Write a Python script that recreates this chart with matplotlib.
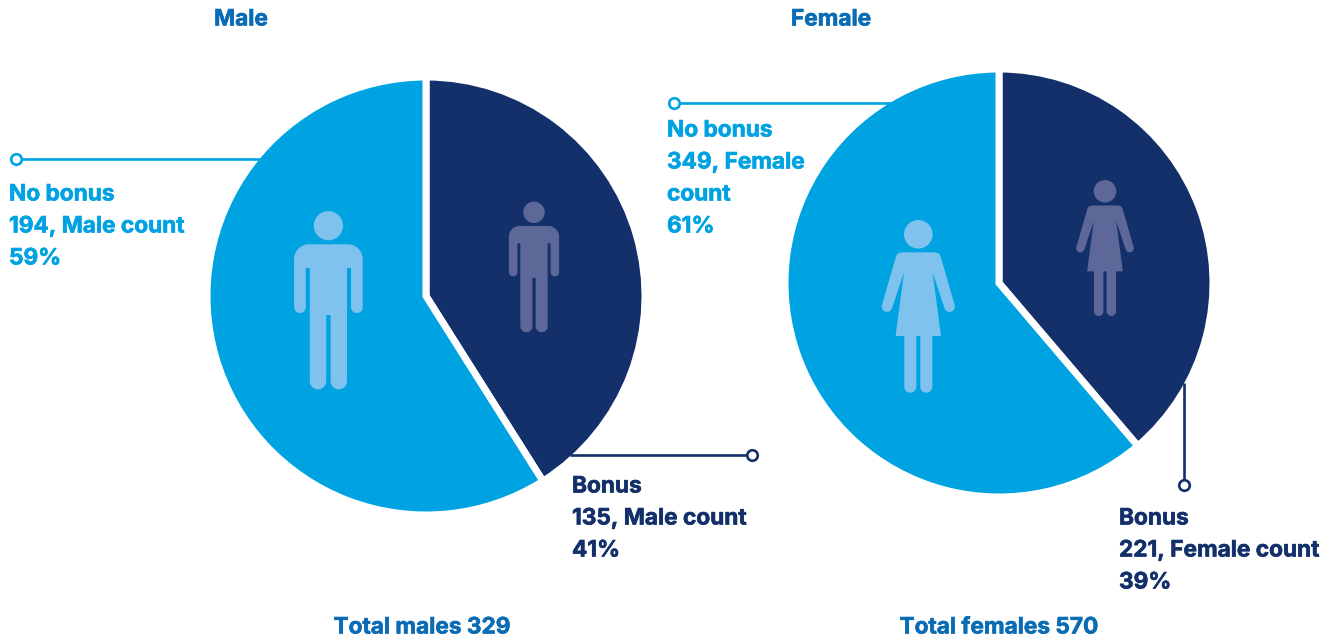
import numpy as np
import matplotlib
matplotlib.use("Agg")
import matplotlib.pyplot as plt
import matplotlib.patheffects as pe
from matplotlib.patches import Polygon, Circle

W, H = 1344, 641
plt.rcParams['font.family'] = ['Inter', 'DejaVu Sans']

categories = ["Bonus", "No bonus"]
male_counts = [135, 194]
female_counts = [221, 349]
male_pct = ["41%", "59%"]
female_pct = ["39%", "61%"]
male_total = 329
female_total = 570

BLUE = "#00A3E2"
NAVY = "#13306B"
TITLE = "#0A6CB4"
ICON_ON_BLUE = "#7FC2EE"
ICON_ON_NAVY = "#5D6898"

fig = plt.figure(figsize=(W / 100, H / 100), dpi=100, facecolor="white")


def draw_pie(values, cx, cy, r):
    gap = 7.0
    R = r + gap / 2 - 0.5
    ax = fig.add_axes([(cx - R) / W, 1 - (cy + R) / H, 2 * R / W, 2 * R / H])
    ax.pie(values, colors=[NAVY, BLUE], startangle=90, counterclock=False, radius=1,
           wedgeprops=dict(edgecolor="white", linewidth=gap * 0.72))
    ax.set_xlim(-1, 1)
    ax.set_ylim(-1, 1)
    ax.set_aspect("equal")
    ax.axis("off")


draw_pie(male_counts, 426, 296, 216)
draw_pie(female_counts, 999, 283, 211)

ov = fig.add_axes([0, 0, 1, 1], facecolor="none")
ov.set_xlim(0, W)
ov.set_ylim(H, 0)
ov.axis("off")


def arc(cx, cy, r, a0, a1, n=14):
    t = np.radians(np.linspace(a0, a1, n))
    return list(zip(cx + r * np.cos(t), cy + r * np.sin(t)))


def mirrored(half):
    return half + [(-x, y) for x, y in reversed(half)]


def male_outline():
    half = [(0, 18.6), (19.5, 18.6)]
    half += arc(19.5, 33.4, 14.8, -90, 0)
    half += arc(28.45, 81.5, 5.85, 0, 180)
    half += [(22.6, 42.3), (18.6, 42.3)]
    half += arc(10.4, 155.5, 8.2, 0, 180)
    half += [(2.2, 89.3), (0, 89.3)]
    return mirrored(half)


def female_outline():
    half = [(0, 18), (17, 18)]
    half += arc(17.5, 23.5, 5.0, -90, -17)
    half += arc(31.3, 72.3, 5.3, -17, 163)
    half += [(14.3, 38), (22.7, 101.7), (14, 101.7)]
    half += arc(8, 152.4, 6, 0, 180)
    half += [(2, 101.7), (0, 101.7)]
    return mirrored(half)


def draw_icon(outline, head_r, hx, hy, s, color):
    pts = [(hx + s * x, hy + s * y) for x, y in outline]
    ov.add_patch(Polygon(pts, closed=True, facecolor=color, edgecolor="none"))
    ov.add_patch(Circle((hx, hy), head_r * s, facecolor=color, edgecolor="none"))


draw_icon(male_outline(), 14.6, 328.4, 225.7, 1.0, ICON_ON_BLUE)
draw_icon(male_outline(), 14.6, 534, 212.3, 0.733, ICON_ON_NAVY)
draw_icon(female_outline(), 14.3, 918.3, 234.3, 1.0, ICON_ON_BLUE)
draw_icon(female_outline(), 14.3, 1105, 191.3, 0.787, ICON_ON_NAVY)


def leader(x0, y0, x1, y1, color):
    ov.plot([x0, x1], [y0, y1], color=color, lw=1.9, solid_capstyle="butt", zorder=3)
    ov.plot([x1], [y1], marker="o", ms=7.6, mfc="white", mec=color, mew=1.9, zorder=4)


leader(262, 159, 16, 159, BLUE)
leader(570, 455, 752, 455, NAVY)
leader(892, 103, 674, 103, BLUE)
leader(1184, 383, 1184, 485, NAVY)

FS = 16.3
LS = 32
HEAVY = [pe.withStroke(linewidth=0.45, foreground=None)]


def put(x, y, s, color, ha):
    ov.text(x, y, s, color=color, fontsize=FS, fontweight="bold", ha=ha, va="center",
            path_effects=[pe.withStroke(linewidth=0.45, foreground=color)])


def label(x, y, lines, color):
    for i, line in enumerate(lines):
        put(x, y + 1.5 + i * LS, line, color, "left")


label(9, 193, [categories[1], f"{male_counts[1]}, Male count", male_pct[1]], BLUE)
label(572, 485, [categories[0], f"{male_counts[0]}, Male count", male_pct[0]], NAVY)
label(667, 129, [categories[1], f"{female_counts[1]}, Female", "count", female_pct[1]], BLUE)
label(1119, 517, [categories[0], f"{female_counts[0]}, Female count", female_pct[0]], NAVY)

for x, y, s in [(241, 19.5, "Male"), (831, 19.5, "Female"),
                (422, 627.5, f"Total males {male_total}"),
                (999, 627.5, f"Total females {female_total}")]:
    put(x, y, s, TITLE, "center")

fig.savefig("out.png", dpi=100)
